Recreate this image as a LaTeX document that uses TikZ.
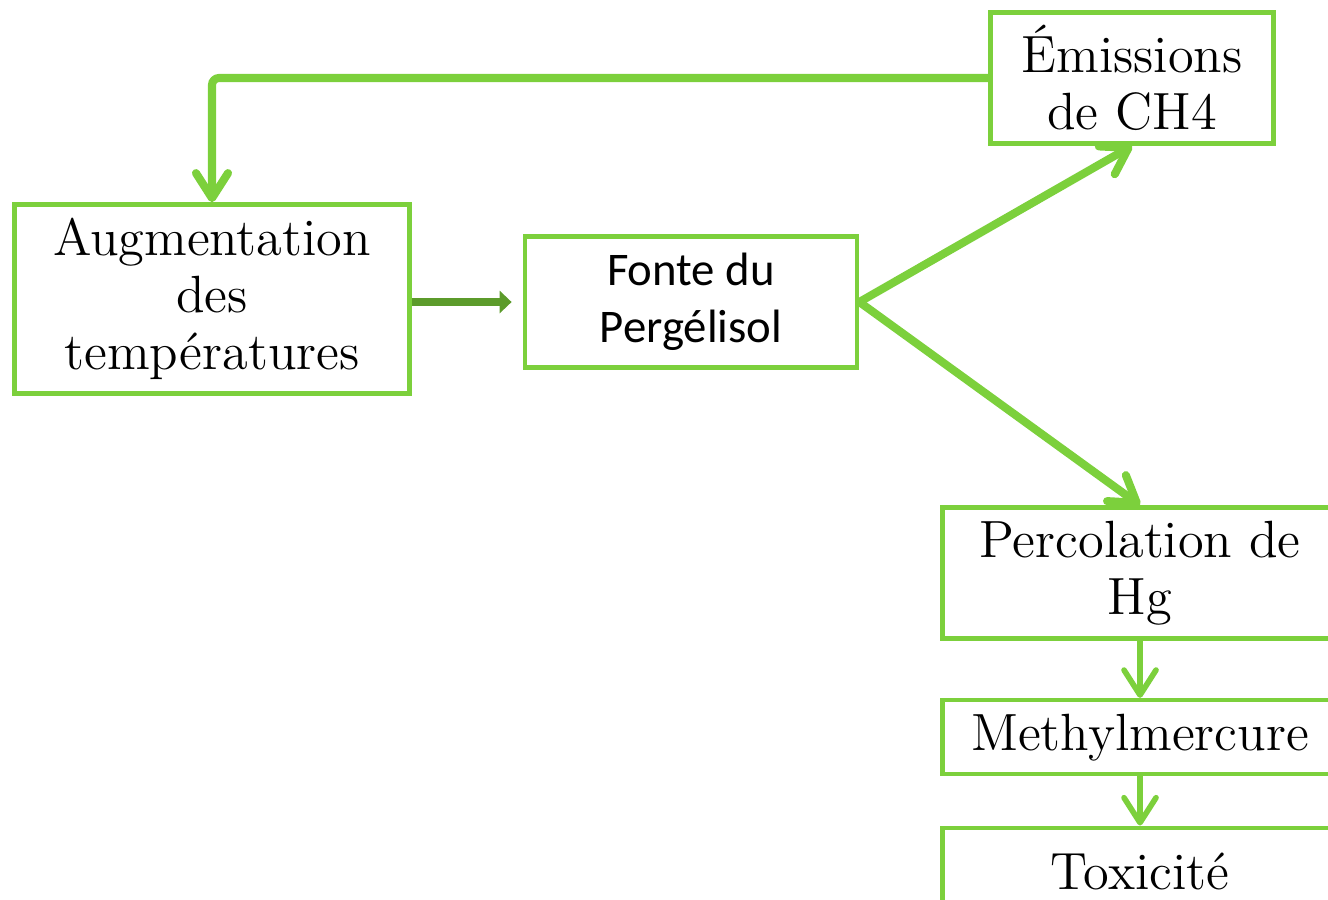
\documentclass[tikz,border=0pt]{standalone}
\usepackage{fontspec}
\newfontfamily\calibrifont{Carlito}
\usetikzlibrary{positioning, arrows.meta}
\definecolor{lightgreen}{RGB}{124,208,60}
\definecolor{darkgreen}{RGB}{92,155,43}
\tikzset{
  boxnode/.style={draw=lightgreen, line width=1.3pt, fill=white, align=center, inner sep=0pt,
    font=\fontsize{14.9}{16.3}\selectfont},
  greenarrow/.style={draw=lightgreen, line width=2.3pt, line cap=round,
    -{Straight Barb[length=0.25cm, width=0.32cm, round]}},
  smallarrow/.style={greenarrow, line width=1.6pt},
  darkarrow/.style={draw=darkgreen, line width=2.5pt, -{Triangle[length=0.12cm, width=0.22cm]}}
}
\begin{document}
\begin{tikzpicture}[x=0.01cm, y=-0.01cm]
    \useasboundingbox (0,0) rectangle (1328,899);
    \clip (0,0) rectangle (1328,899);

    % Boxes
    \node[boxnode, minimum width=2.83cm, minimum height=1.31cm] (emis) at (1132,78) {Émissions\\de CH4};
    \node[boxnode, minimum width=3.95cm, minimum height=1.89cm] (aug) at (212,299) {Augmentation\\des\\températures};
    \node[boxnode, minimum width=3.32cm, minimum height=1.31cm,
      font=\calibrifont\fontsize{13.3}{16.2}\selectfont] (fonte) at (691,302) {Fonte du\\Pergélisol};
    \node[boxnode, minimum width=3.95cm, minimum height=1.31cm] (perc) at (1140,573) {Percolation de\\Hg};
    \node[boxnode, minimum width=3.95cm, minimum height=0.74cm, below=0.57cm of perc] (meth) {Methylmercure};
    \node[boxnode, minimum width=3.95cm, minimum height=0.87cm, below=0.49cm of meth] (tox) {Toxicité};

    % Connectors
    \draw[greenarrow, rounded corners=2pt] (emis.west) -- (aug.north |- emis.west) -- (aug.north); % feedback
    \draw[darkarrow, shorten >=0.11cm] (aug.east |- fonte.west) -- (fonte.west);
    \draw[greenarrow] (fonte.east) -- (emis.south);
    \draw[greenarrow] (fonte.east) -- (perc.north);
    \draw[smallarrow] (perc.south) -- (meth.north);
    \draw[smallarrow] (meth.south) -- (tox.north);
\end{tikzpicture}
\end{document}
